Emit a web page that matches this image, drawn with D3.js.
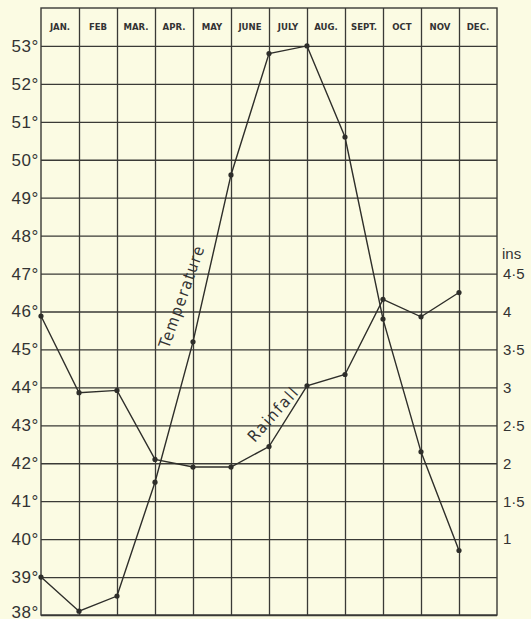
<!DOCTYPE html>
<html>
<head>
<meta charset="utf-8">
<script src="https://cdn.jsdelivr.net/npm/d3@7"></script>
<style>
  html, body { margin: 0; padding: 0; background: #fbfbe3; }
  svg { display: block; }
</style>
</head>
<body>
<div id="chart"></div>
<script>
const months = ["JAN.", "FEB", "MAR.", "APR.", "MAY", "JUNE", "JULY", "AUG.", "SEPT.", "OCT", "NOV", "DEC."]
const temperature = [39.0, 38.1, 38.5, 41.5, 45.2, 49.6, 52.8, 53.0, 50.6, 45.8, 42.3, 39.7]
const rainfall = [3.94, 2.93, 2.96, 2.05, 1.95, 1.95, 2.22, 3.02, 3.17, 4.16, 3.93, 4.25]
const tempTicks = [38, 39, 40, 41, 42, 43, 44, 45, 46, 47, 48, 49, 50, 51, 52, 53]
const rainTicks = [1, 1.5, 2, 2.5, 3, 3.5, 4, 4.5]

const width = 531
const height = 619
const margin = { top: 8, right: 34, bottom: 4, left: 41 }
const innerW = width - margin.left - margin.right
const innerH = height - margin.top - margin.bottom
const ink = "#3a3a36"
const numFont = "'Liberation Sans', Arial, sans-serif"
const narrowFont = "'DejaVu Sans Condensed', 'Liberation Sans Narrow', sans-serif"

const svg = d3.select("#chart")
  .append("svg")
  .attr("width", width)
  .attr("height", height)

const g = svg.append("g")
  .attr("transform", `translate(${margin.left},${margin.top})`)

// month boundaries: points sit on the left edge of each month column
const x = d3.scaleLinear().domain([0, 12]).range([0, innerW])
// top row (53°-54°) is used for the month header
const y = d3.scaleLinear().domain([38, 54]).range([innerH, 0])
// 1 inch of rain = 2 degrees, 0 ins at 38°
const yRain = d3.scaleLinear().domain([0, 8]).range([innerH, 0])

// horizontal grid + left labels
g.append("g")
  .call(d3.axisLeft(y).tickValues(tempTicks).tickSize(-innerW).tickPadding(2).tickFormat(d => d + "°"))
  .call(a => a.select(".domain").remove())
  .call(a => a.selectAll(".tick line").attr("stroke", ink).attr("stroke-width", 1.3))
  .call(a => a.selectAll(".tick text")
    .attr("font-family", numFont)
    .attr("font-size", 17)
    .attr("letter-spacing", 0.6)
    .attr("fill", "#333"))
  .call(a => a.selectAll(".tick text").filter(d => d === 38).attr("dy", "0.15em"))

// vertical grid
g.append("g")
  .call(d3.axisTop(x).tickValues(d3.range(1, 12)).tickSize(-innerH).tickFormat(""))
  .call(a => a.select(".domain").remove())
  .call(a => a.selectAll(".tick line").attr("stroke", ink).attr("stroke-width", 1.3))

// frame
g.append("rect")
  .attr("width", innerW).attr("height", innerH)
  .attr("fill", "none").attr("stroke", ink).attr("stroke-width", 1.4)

// month header
g.append("g").selectAll("text")
  .data(months)
  .join("text")
  .attr("x", (d, i) => x(i + 0.5))
  .attr("y", (y(54) + y(53)) / 2 + 3.5)
  .attr("text-anchor", "middle")
  .attr("font-family", narrowFont)
  .attr("font-weight", 700)
  .attr("font-size", 9.5)
  .attr("fill", "#333")
  .text(d => d)

// right rainfall axis
g.append("g")
  .attr("transform", `translate(${innerW},0)`)
  .call(d3.axisRight(yRain).tickValues(rainTicks).tickSize(0).tickPadding(6)
    .tickFormat(d => Number.isInteger(d) ? d : String(d).replace(".", "·")))
  .call(a => a.select(".domain").remove())
  .call(a => a.selectAll(".tick text")
    .attr("font-family", numFont)
    .attr("font-size", 15).attr("fill", "#333"))

g.append("text")
  .attr("x", innerW + 5)
  .attr("y", yRain(4.5) - 15)
  .attr("font-family", numFont)
  .attr("font-size", 15)
  .attr("fill", "#333")
  .text("ins")

// series
const tempLine = d3.line().x((d, i) => x(i)).y(d => y(d))
const rainLine = d3.line().x((d, i) => x(i)).y(d => yRain(d))

const series = [
  { values: temperature, line: tempLine, yy: y },
  { values: rainfall, line: rainLine, yy: yRain }
]

series.forEach(s => {
  g.append("path")
    .datum(s.values)
    .attr("d", s.line)
    .attr("fill", "none")
    .attr("stroke", "#2e2e2a")
    .attr("stroke-width", 1.4)
  g.append("g").selectAll("circle")
    .data(s.values)
    .join("circle")
    .attr("cx", (d, i) => x(i))
    .attr("cy", d => s.yy(d))
    .attr("r", 2.6)
    .attr("fill", "#2e2e2a")
})

// series labels written along the lines
g.append("text")
  .attr("transform", `translate(${x(3.84)},${y(46.35)}) rotate(-70.5)`)
  .attr("text-anchor", "middle")
  .attr("font-family", narrowFont)
  .attr("font-size", 16)
  .attr("letter-spacing", 1.6)
  .attr("fill", "#333")
  .text("Temperature")

g.append("text")
  .attr("transform", `translate(${x(6.22)},${y(43.2)}) rotate(-48)`)
  .attr("text-anchor", "middle")
  .attr("font-family", narrowFont)
  .attr("font-size", 16)
  .attr("letter-spacing", 1.8)
  .attr("fill", "#333")
  .text("Rainfall")
</script>
</body>
</html>
